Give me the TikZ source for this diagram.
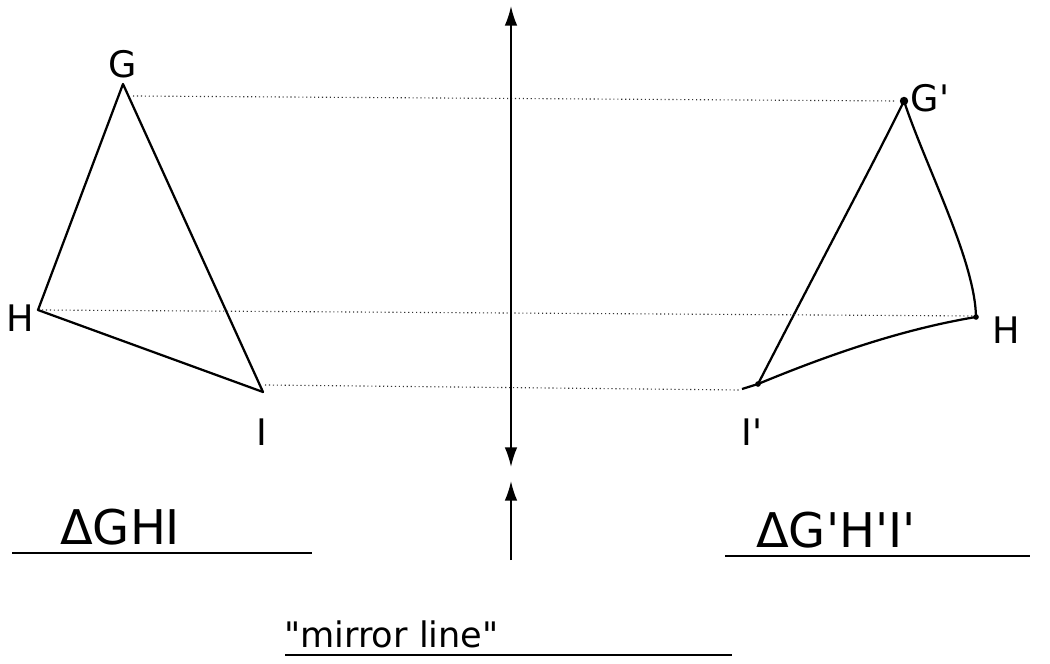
\documentclass[tikz,border=0pt]{standalone}
\usepackage{fontspec}
\setmainfont{DejaVu Sans}[Ligatures=TeXOff]
\usetikzlibrary{arrows.meta}
\begin{document}
\begin{tikzpicture}[x=0.025cm,y=-0.025cm,
  tri/.style={line width=1.6pt,black,line join=round},
  guide/.style={line width=0.8pt,dotted,black!80},
  mirror/.style={line width=1.3pt,-{Latex[length=14pt,width=9pt]}},
  lbl/.style={font=\fontsize{26}{28}\selectfont,inner sep=0pt},
  captxt/.style={font=\fontsize{34}{38}\selectfont,inner sep=0pt},
  uline/.style={line width=1.1pt},
  vdot/.style={circle,fill=black,inner sep=0pt,minimum size=6pt}]
\useasboundingbox (0,0) rectangle (1050,663);
% original triangle
\coordinate (G) at (123,84);
\coordinate (H) at (38,310);
\coordinate (I) at (263,392);
\draw[tri] (G) -- (I) -- (H) -- cycle;
% image triangle
\node[vdot] (G2) at (904,101) {};
\node[vdot,minimum size=4pt] (H2) at (976,317) {};
\node[vdot,minimum size=4pt] (I2) at (758,384) {};
\draw[tri] (G2.center) .. controls (870,170) and (840,225) .. (I2.center);
\draw[tri] (G2.center) .. controls (925,165) and (975,260) .. (H2.center);
\draw[tri] (I2.center) .. controls (840,350) and (910,328) .. (H2.center);
\draw[tri] (I2.center) -- (742,389);
% guide lines
\coordinate (g1) at (133,96);
\coordinate (g2) at (896,101);
\coordinate (h1) at (42,310);
\coordinate (h2) at (974,316);
\coordinate (i1) at (265,385);
\coordinate (i2) at (740,390);
\draw[guide] (g1) -- (g2);
\draw[guide] (h1) -- (h2);
\draw[guide] (i1) -- (i2);
% mirror line
\coordinate (mtop) at (511,6);
\coordinate (mbot) at (511,467);
\coordinate (mc) at (511,237);
\draw[mirror] (mc) -- (mtop);
\draw[mirror] (mc) -- (mbot);
\coordinate (a1) at (511,560);
\coordinate (a2) at (511,481);
\draw[mirror] (a1) -- (a2);
% vertex labels
\node[lbl] (LG) at (123,64) {G};
\node[lbl] (LH) at (20,318) {H};
\node[lbl] (LI) at (262,432) {I};
\node[lbl] (LG2) at (930,98) {G'};
\node[lbl] (LH2) at (1006,330) {H};
\node[lbl] (LI2) at (752,432) {I'};
% captions
\node[captxt,anchor=south west] (C1) at (60,545) {ΔGHI};
\draw[uline] (12,553) -- (312,553);
\node[captxt,anchor=south west] (C2) at (756,548) {ΔG'H'I'};
\draw[uline] (725,556) -- (1030,556);
\node[captxt,anchor=south west,font=\fontsize{25}{28}\selectfont] (C3) at (284,648) {"mirror line"};
\draw[uline] (285,655) -- (732,655);
\end{tikzpicture}
\end{document}
